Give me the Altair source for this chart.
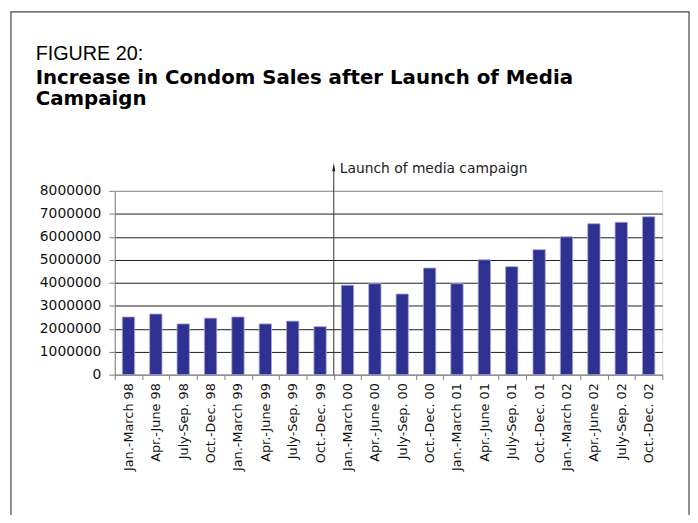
import altair as alt
import pandas as pd

categories = [
    "Jan.-March 98", "Apr.-June 98", "July-Sep. 98", "Oct.-Dec. 98",
    "Jan.-March 99", "Apr.-June 99", "July-Sep. 99", "Oct.-Dec. 99",
    "Jan.-March 00", "Apr.-June 00", "July-Sep. 00", "Oct.-Dec. 00",
    "Jan.-March 01", "Apr.-June 01", "July-Sep. 01", "Oct.-Dec. 01",
    "Jan.-March 02", "Apr.-June 02", "July-Sep. 02", "Oct.-Dec. 02",
]
sales = [
    2510000, 2640000, 2210000, 2460000,
    2510000, 2210000, 2330000, 2090000,
    3890000, 3960000, 3510000, 4640000,
    3960000, 5000000, 4700000, 5440000,
    6000000, 6570000, 6630000, 6870000,
]
y_ticks = [0, 1000000, 2000000, 3000000, 4000000, 5000000, 6000000, 7000000, 8000000]
launch_category = "Jan.-March 00"
launch_label = "Launch of media campaign"
figure_label = "FIGURE 20:"
title_lines = ["Increase in Condom Sales after Launch of Media", "Campaign"]

df = pd.DataFrame({"period": categories, "sales": sales})
launch_df = pd.DataFrame({"period": [launch_category], "label": [launch_label]})

xscale = alt.Scale(domain=categories, paddingInner=0, paddingOuter=0)
yscale = alt.Scale(domain=[0, 8000000])

xaxis = alt.Axis(
    title=None, labelAngle=270, labelAlign="right", labelBaseline="middle",
    labelFont="DejaVu Sans", labelFontSize=13, labelColor="#111111",
    labelPadding=3, tickBand="extent", tickSize=5, tickColor="#808080",
    domainColor="#808080", labelOverlap=False,
)
yaxis = alt.Axis(
    title=None, values=y_ticks, format="d", labelFont="DejaVu Sans",
    labelFontSize=14, labelColor="#111111", tickSize=6, labelPadding=8,
    tickColor="#808080", domainColor="#808080",
    gridColor={"condition": {"test": "datum.value === 8000000 || datum.value === 0",
                             "value": "#8c8c8c"}, "value": "#1e1e1e"},
)

frame = alt.Chart(pd.DataFrame({"a": [0]})).mark_rect(
    filled=False, color="#444444", strokeWidth=1.2
).encode(x=alt.value(-105), x2=alt.value(581), y=alt.value(-181), y2=alt.value(340))

bars = alt.Chart(df).mark_bar(
    color="#2E3192", stroke="#A8A8D8", strokeWidth=0.8,
    width=alt.RelativeBandSize(0.45),
).encode(
    x=alt.X("period:N", scale=xscale, sort=categories, axis=xaxis),
    y=alt.Y("sales:Q", scale=yscale, axis=yaxis),
)

rule = alt.Chart(launch_df).mark_rule(color="#333333", strokeWidth=1).encode(
    x=alt.X("period:N", scale=xscale, sort=categories, axis=xaxis, bandPosition=0),
    y=alt.value(-22), y2=alt.value(186),
)

arrow = alt.Chart(launch_df).mark_point(
    shape="M0,-1L0.3,0.6L-0.3,0.6Z", filled=True, color="#222222",
    size=110, opacity=1,
).encode(
    x=alt.X("period:N", scale=xscale, sort=categories, axis=xaxis, bandPosition=0),
    y=alt.value(-23),
)

label = alt.Chart(launch_df).mark_text(
    align="left", baseline="middle", dx=6, font="DejaVu Sans",
    fontSize=14, color="#222222",
).encode(
    x=alt.X("period:N", scale=xscale, sort=categories, axis=xaxis, bandPosition=0),
    y=alt.value(-22), text="label:N",
)

fig = alt.Chart(pd.DataFrame({"t": [figure_label]})).mark_text(
    align="left", baseline="alphabetic", font="Liberation Sans", fontSize=20,
    color="#000000",
).encode(text="t:N", x=alt.value(-80), y=alt.value(-132))

title1 = alt.Chart(pd.DataFrame({"t": [title_lines[0]]})).mark_text(
    align="left", baseline="alphabetic", font="DejaVu Sans", fontSize=20,
    fontWeight="bold", color="#000000",
).encode(text="t:N", x=alt.value(-80), y=alt.value(-108))

title2 = alt.Chart(pd.DataFrame({"t": [title_lines[1]]})).mark_text(
    align="left", baseline="alphabetic", font="DejaVu Sans", fontSize=20,
    fontWeight="bold", color="#000000",
).encode(text="t:N", x=alt.value(-80), y=alt.value(-87))

chart = alt.layer(frame, bars, rule, arrow, label, fig, title1, title2).properties(
    width=554, height=186,
    autosize=alt.AutoSizeParams(type="none"),
    padding={"left": 108, "top": 182, "right": 28, "bottom": 139},
).configure_view(stroke=None).configure(background="white")

chart.save("out.html", embed_options={"renderer": "svg", "actions": False})
